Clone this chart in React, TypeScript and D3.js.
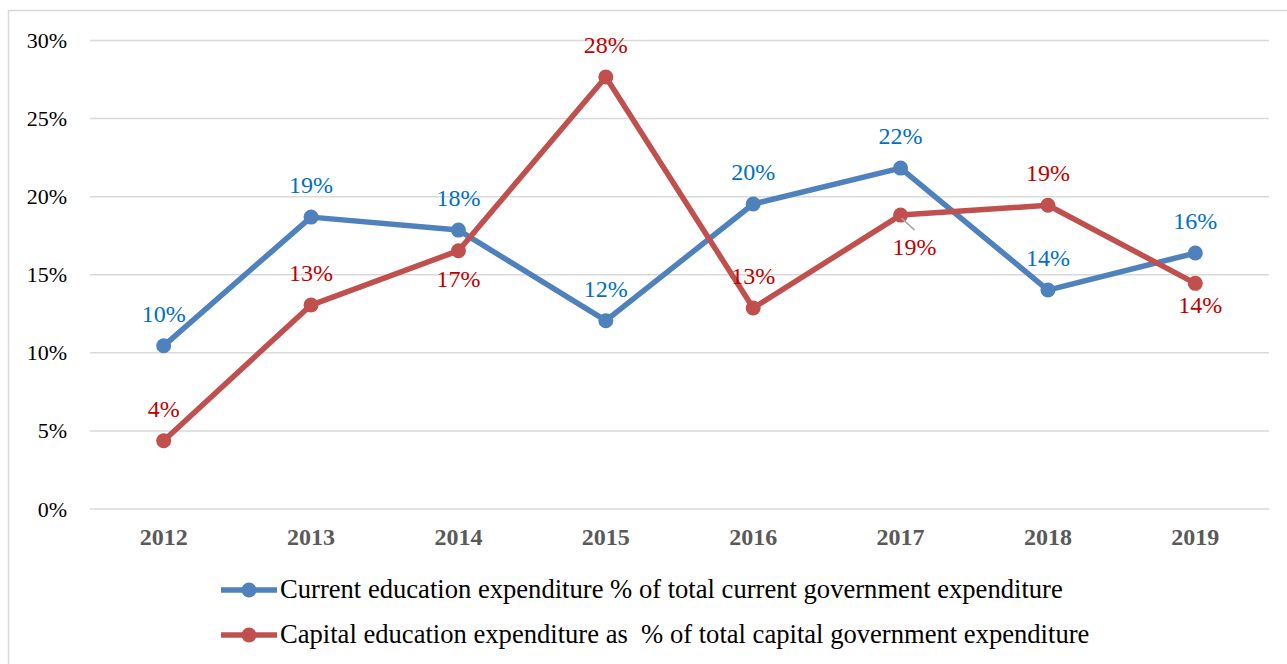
import React, { useEffect, useRef } from 'react';
import * as d3 from 'd3';

const years = ['2012', '2013', '2014', '2015', '2016', '2017', '2018', '2019'];
const currentShare = [10.45, 18.69, 17.86, 12.06, 19.53, 21.83, 14.02, 16.39];
const capitalShare = [4.37, 13.06, 16.54, 27.66, 12.87, 18.82, 19.45, 14.45];
const yTicks = [0, 5, 10, 15, 20, 25, 30];
const currentLabelPos = ['above', 'above', 'above', 'above', 'above', 'above', 'above', 'above'];
const capitalLabelPos = ['above', 'above', 'below', 'above', 'above', 'leader', 'above', 'belowRight'];
const legendLabels = [
  'Current education expenditure % of total current government expenditure',
  'Capital education expenditure as  % of total capital government expenditure',
];

const W = 1287;
const H = 664;
const FONT = '"Liberation Serif", "Times New Roman", serif';

const App: React.FC = () => {
  const svgRef = useRef<SVGSVGElement>(null);

  useEffect(() => {
    if (!svgRef.current) return;
    const svg = d3.select(svgRef.current);
    svg.selectAll('*').remove();

    // Chart frame
    svg
      .append('rect')
      .attr('x', 8.5)
      .attr('y', 10.5)
      .attr('width', W)
      .attr('height', H)
      .attr('fill', 'white')
      .attr('stroke', '#d9d9d9')
      .attr('stroke-width', 1.5);

    const left = 90;
    const right = 1269;
    const yScale = d3.scaleLinear().domain([0, 30]).range([509, 40.5]);
    const xScale = d3.scaleBand().domain(years).range([left, right]);
    const cx = (y: string) => (xScale(y) || 0) + xScale.bandwidth() / 2;

    // Grid lines
    svg
      .append('g')
      .selectAll('line')
      .data(yTicks)
      .join('line')
      .attr('x1', left)
      .attr('x2', right)
      .attr('y1', d => yScale(d))
      .attr('y2', d => yScale(d))
      .attr('stroke', '#d9d9d9')
      .attr('stroke-width', 1.5);

    // Y tick labels
    svg
      .append('g')
      .selectAll('text')
      .data(yTicks)
      .join('text')
      .attr('x', 67)
      .attr('y', d => yScale(d) + 7.5)
      .attr('text-anchor', 'end')
      .style('font-family', FONT)
      .style('font-size', '22px')
      .style('fill', '#000')
      .text(d => `${d}%`);

    // X labels
    svg
      .append('g')
      .selectAll('text')
      .data(years)
      .join('text')
      .attr('x', d => cx(d))
      .attr('y', 545)
      .attr('text-anchor', 'middle')
      .style('font-family', FONT)
      .style('font-size', '24px')
      .style('font-weight', 'bold')
      .style('fill', '#595959')
      .text(d => d);

    const series = [
      { values: currentShare, color: '#4f81bd', labelColor: '#0070c0', pos: currentLabelPos },
      { values: capitalShare, color: '#c0504d', labelColor: '#c00000', pos: capitalLabelPos },
    ];

    const line = d3
      .line<number>()
      .x((_, i) => cx(years[i]))
      .y(d => yScale(d));

    series.forEach(s => {
      svg
        .append('path')
        .datum(s.values)
        .attr('fill', 'none')
        .attr('stroke', s.color)
        .attr('stroke-width', 5.5)
        .attr('stroke-linejoin', 'round')
        .attr('d', line);

      svg
        .append('g')
        .selectAll('circle')
        .data(s.values)
        .join('circle')
        .attr('cx', (_, i) => cx(years[i]))
        .attr('cy', d => yScale(d))
        .attr('r', 7.5)
        .attr('fill', s.color);
    });

    // Data labels
    series.forEach(s => {
      const g = svg.append('g');
      s.values.forEach((v, i) => {
        const x = cx(years[i]);
        const y = yScale(v);
        let tx = x;
        let ty = y - 24;
        if (s.pos[i] === 'below') ty = y + 36;
        if (s.pos[i] === 'belowRight') {
          tx = x + 5;
          ty = y + 30;
        }
        if (s.pos[i] === 'leader') {
          tx = x + 14;
          ty = y + 40;
          g.append('line')
            .attr('x1', x + 1)
            .attr('y1', y + 3)
            .attr('x2', x + 14)
            .attr('y2', y + 15)
            .attr('stroke', '#a6a6a6')
            .attr('stroke-width', 1.5);
        }
        g.append('text')
          .attr('x', tx)
          .attr('y', ty)
          .attr('text-anchor', 'middle')
          .style('font-family', FONT)
          .style('font-size', '24px')
          .style('fill', s.labelColor)
          .text(`${Math.round(v)}%`);
      });
    });

    // Legend
    const legend = svg.append('g');
    legendLabels.forEach((label, i) => {
      const y = 590 + i * 45;
      const row = legend.append('g').attr('transform', `translate(0, ${y})`);
      row
        .append('line')
        .attr('x1', 221)
        .attr('x2', 277)
        .attr('y1', 0)
        .attr('y2', 0)
        .attr('stroke', series[i].color)
        .attr('stroke-width', 5.5);
      row
        .append('circle')
        .attr('cx', 249)
        .attr('cy', 0)
        .attr('r', 7.5)
        .attr('fill', series[i].color);
      row
        .append('text')
        .attr('x', 280)
        .attr('y', 8)
        .attr('xml:space', 'preserve')
        .style('white-space', 'pre')
        .style('font-family', FONT)
        .style('font-size', '26.6px')
        .style('fill', '#000')
        .text(label);
    });
  }, []);

  return (
    <svg
      ref={svgRef}
      width={W}
      height={H}
      style={{ position: 'absolute', left: 0, top: 0, display: 'block', background: 'white' }}
    />
  );
};

export default App;
